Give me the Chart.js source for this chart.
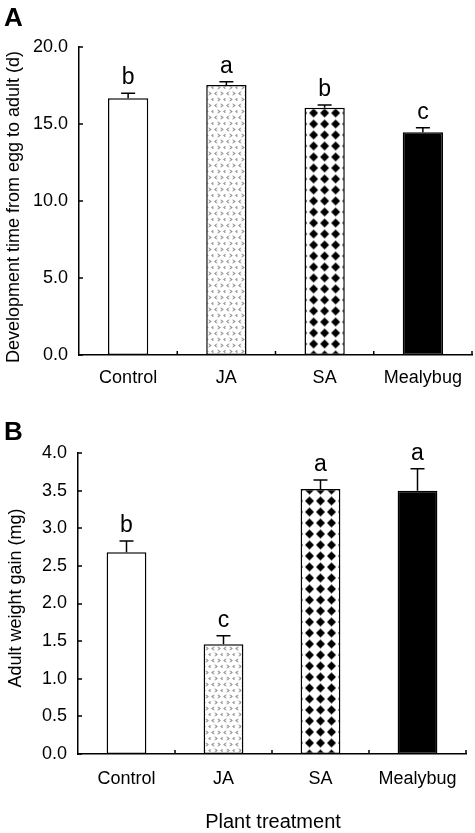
<!DOCTYPE html>
<html>
<head>
<meta charset="utf-8">
<script src="https://cdn.jsdelivr.net/npm/chart.js@4.4.0/dist/chart.umd.min.js"></script>
<style>
body { margin: 0; background: #fff; }
canvas { display: block; }
</style>
</head>
<body>
<canvas id="chartA" width="475" height="400"></canvas>
<canvas id="chartB" width="475" height="433"></canvas>
<script>
var categories = ['Control', 'JA', 'SA', 'Mealybug'];

// panel A - development time (d)
var devTime = [16.67, 17.53, 16.06, 14.46];
var devTimeErr = [0.33, 0.22, 0.17, 0.30];
var devLetters = ['b', 'a', 'b', 'c'];

// panel B - adult weight gain (mg)
var weightGain = [2.68, 1.46, 3.52, 3.50];
var weightErr = [0.15, 0.11, 0.12, 0.29];
var weightLetters = ['b', 'c', 'a', 'a'];

var FONT = "'Liberation Sans', Arial, sans-serif";

function makeJaPattern() {
    var c = document.createElement('canvas');
    c.width = 12; c.height = 12;
    var g = c.getContext('2d');
    g.fillStyle = '#fff';
    g.fillRect(0, 0, 12, 12);
    g.strokeStyle = '#555';
    g.lineWidth = 1;
    function chev(x, y, left) {
        g.beginPath();
        if (left) { g.moveTo(x + 2.5, y); g.lineTo(x + 0.5, y + 1.5); g.lineTo(x + 2.5, y + 3); }
        else { g.moveTo(x + 0.5, y); g.lineTo(x + 2.5, y + 1.5); g.lineTo(x + 0.5, y + 3); }
        g.stroke();
    }
    chev(1, 1, true);
    chev(7, 1, false);
    chev(4, 7, false);
    chev(10, 7, true);
    return g.createPattern(c, 'repeat');
}

function makeSaPattern() {
    var c = document.createElement('canvas');
    c.width = 11; c.height = 11;
    var g = c.getContext('2d');
    g.fillStyle = '#fff';
    g.fillRect(0, 0, 11, 11);
    g.fillStyle = '#000';
    g.beginPath();
    g.moveTo(5.5, 1); g.lineTo(10, 5.5); g.lineTo(5.5, 10); g.lineTo(1, 5.5);
    g.closePath();
    g.fill();
    return g.createPattern(c, 'repeat');
}

var extrasPlugin = {
    id: 'extras',
    beforeDatasetsDraw: function (chart, args, opts) {
        var meta = chart.getDatasetMeta(0);
        var sa = meta.data[2];
        opts.saPattern.setTransform(new DOMMatrix().translate(sa.x - 5.5, chart.chartArea.bottom - 5.5));
        var ja = meta.data[1];
        opts.jaPattern.setTransform(new DOMMatrix().translate(ja.x - 1, chart.chartArea.bottom));
    },
    afterDatasetsDraw: function (chart, args, opts) {
        var ctx = chart.ctx;
        var meta = chart.getDatasetMeta(0);
        var y = chart.scales.y, x = chart.scales.x, area = chart.chartArea;
        ctx.save();
        ctx.strokeStyle = '#000';
        ctx.fillStyle = '#000';
        ctx.lineWidth = 1.5;

        // error bars and letters
        meta.data.forEach(function (bar, i) {
            var top = y.getPixelForValue(opts.values[i] + opts.errors[i]);
            ctx.beginPath();
            ctx.moveTo(bar.x, bar.y);
            ctx.lineTo(bar.x, top);
            ctx.moveTo(bar.x - 7, top);
            ctx.lineTo(bar.x + 7, top);
            ctx.stroke();
            ctx.font = '23px ' + FONT;
            ctx.textAlign = 'center';
            ctx.textBaseline = 'alphabetic';
            ctx.fillText(opts.letters[i], bar.x, top - 9);
        });

        // inward ticks
        ctx.beginPath();
        y.ticks.forEach(function (t) {
            var py = Math.round(y.getPixelForValue(t.value));
            ctx.moveTo(area.left, py);
            ctx.lineTo(area.left + 4, py);
        });
        for (var i = 1; i <= categories.length; i++) {
            var px = i < categories.length ? (x.getPixelForValue(i - 1) + x.getPixelForValue(i)) / 2 : area.right;
            ctx.moveTo(px, area.bottom);
            ctx.lineTo(px, area.bottom - 4);
        }
        ctx.stroke();

        // panel letter
        ctx.font = 'bold 26px ' + FONT;
        ctx.textAlign = 'left';
        ctx.fillText(opts.panel, 4, opts.panelY);

        // y title
        ctx.save();
        ctx.font = '18px ' + FONT;
        ctx.textAlign = 'center';
        ctx.translate(opts.titleX, opts.titleY);
        ctx.rotate(-Math.PI / 2);
        ctx.fillText(opts.yTitle, 0, 0);
        ctx.restore();

        if (opts.xTitle) {
            ctx.font = '20px ' + FONT;
            ctx.textAlign = 'center';
            ctx.fillText(opts.xTitle, 273, opts.xTitleY);
        }
        ctx.restore();
    }
};

function buildChart(id, cfg) {
    var jaPattern = makeJaPattern();
    var saPattern = makeSaPattern();
    return new Chart(document.getElementById(id), {
        type: 'bar',
        data: {
            labels: categories,
            datasets: [{
                data: cfg.values,
                backgroundColor: ['#fff', jaPattern, saPattern, '#000'],
                borderColor: '#000',
                borderWidth: 1.5,
                borderSkipped: false,
                categoryPercentage: 1,
                barPercentage: 0.41
            }]
        },
        options: {
            responsive: false,
            animation: false,
            devicePixelRatio: 1,
            layout: { padding: { top: cfg.top, right: cfg.right, left: 0, bottom: 0 } },
            plugins: {
                legend: { display: false },
                tooltip: { enabled: false },
                extras: {
                    values: cfg.values, errors: cfg.errors, letters: cfg.letters,
                    panel: cfg.panel, panelY: cfg.panelY,
                    yTitle: cfg.yTitle, titleX: cfg.titleX, titleY: cfg.titleY,
                    xTitle: cfg.xTitle, xTitleY: cfg.xTitleY,
                    jaPattern: jaPattern, saPattern: saPattern
                }
            },
            scales: {
                x: {
                    grid: { display: false, drawTicks: false },
                    border: { color: '#000', width: 1.5 },
                    ticks: { color: '#000', font: { family: FONT, size: 18 }, padding: cfg.xPad, maxRotation: 0, autoSkip: false },
                    afterFit: function (s) { s.height = cfg.xHeight; }
                },
                y: {
                    min: 0, max: cfg.max,
                    grid: { display: false, drawTicks: false },
                    border: { color: '#000', width: 1.5 },
                    ticks: {
                        stepSize: cfg.step, color: '#000', font: { family: FONT, size: 18 }, padding: 11,
                        callback: function (v) { return v.toFixed(1); }
                    },
                    afterFit: function (s) { s.width = cfg.left; }
                }
            }
        },
        plugins: [extrasPlugin]
    });
}

buildChart('chartA', {
    values: devTime, errors: devTimeErr, letters: devLetters,
    max: 20, step: 5, top: 47, right: 3, left: 79, xHeight: 45, xPad: 12,
    panel: 'A', panelY: 26,
    yTitle: 'Development time from egg to adult (d)', titleX: 19, titleY: 207
});

buildChart('chartB', {
    values: weightGain, errors: weightErr, letters: weightLetters,
    max: 4, step: 0.5, top: 53, right: 9, left: 78, xHeight: 79, xPad: 14,
    panel: 'B', panelY: 40,
    yTitle: 'Adult weight gain (mg)', titleX: 21, titleY: 198,
    xTitle: 'Plant treatment', xTitleY: 428
});
</script>
</body>
</html>
